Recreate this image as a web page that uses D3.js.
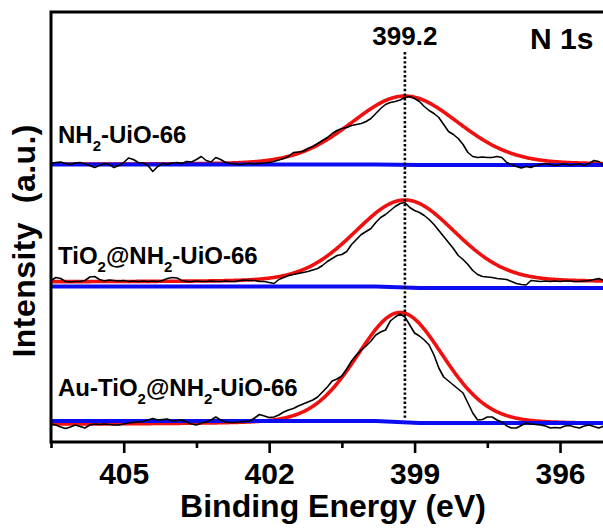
<!DOCTYPE html>
<html>
<head>
<meta charset="utf-8">
<script src="https://cdn.jsdelivr.net/npm/d3@7"></script>
<style>
  html, body { margin: 0; padding: 0; background: #fff; }
  svg { display: block; }
  text { font-family: "Liberation Sans", Arial, Helvetica, sans-serif; font-weight: bold; fill: #000; }
</style>
</head>
<body>
<svg id="chart" width="603" height="529"></svg>
<script>
// ---- N 1s high-resolution XPS data ----
// Binding energy grid: 406.5 eV down to 394.9 eV in 0.1 eV steps (117 points)
const energyStart = 406.5;
const energyStep = 0.1;
const pointCount = 117;

const sampleLabels = [
  ["NH", "2", "-UiO-66"],
  ["TiO", "2", "@NH", "2", "-UiO-66"],
  ["Au-TiO", "2", "@NH", "2", "-UiO-66"]
];

// Raw counts (a.u.), relative to each spectrum's own background level
const rawNH2UiO66 = [
  0.1, 0.2, 0.25, 0.1, 0, 0.15, 0.2, 0.05, -0.1, -0.3,
  -0.1, 0.1, 0, -0.3, -0.1, 0.2, 0.65, 0.5, 0.2, 0.15,
  -0.1, -0.7, -0.2, 0.1, 0, 0.15, 0.2, 0.1, 0.3, 0.25,
  0.5, 0.8, 0.4, 0.25, 0.7, 0.5, 0.2, 0.1, 0.05, 0,
  0.05, 0.1, 0.05, 0.1, 0.15, 0.2, 0.3, 0.45, 0.6, 0.8,
  1.2, 1.25, 1.3, 1.6, 1.8, 2.1, 2.4, 2.7, 3.1, 3.4,
  3.6, 3.7, 3.9, 4.0, 4.1, 4.3, 4.6, 5.1, 5.6, 6.0,
  6.2, 6.3, 6.45, 6.7, 6.8, 6.6, 6.3, 5.8, 5.4, 5.1,
  4.7, 4.0, 3.3, 3.0, 2.6, 2.0, 1.2, 0.8, 0.7, 0.75,
  0.7, 0.7, 0.8, 0.7, 0.2, 0, -0.2, -0.35, -0.2, -0.3,
  -0.1, 0, 0.1, 0, -0.1, 0, 0.05, -0.05, 0, 0.05,
  -0.1, 0.1, 0.4, 0.3, -0.1, 0, 0
];
const rawTiO2NH2UiO66 = [
  0.6, 0.9, 0.8, 0.5, 0.45, 0.5, 0.5, 0.6, 0.95, 1.0,
  0.7, 0.55, 0.65, 0.6, 0.55, 0.6, 0.5, 0.55, 0.5, 0.55,
  0.5, 0.55, 0.5, 0.6, 0.8, 0.9, 0.85, 0.6, 0.5, 0.5,
  0.55, 0.5, 0.5, 0.55, 0.5, 0.5, 0.55, 0.5, 0.5, 0.6,
  0.65, 0.6, 0.6, 0.5, 0.5, 0.4, 0.3, 0.7, 0.9, 1.1,
  1.2, 1.3, 1.4, 1.5, 1.65, 1.8, 2.1, 2.5, 2.8, 3.1,
  3.2, 3.5, 4.2, 4.7, 5.2, 5.5, 5.8, 6.4, 6.9, 7.2,
  7.6, 8.0, 8.3, 8.4, 7.9, 7.6, 7.4, 7.1, 6.7, 6.2,
  5.6, 5.0, 4.4, 3.8, 3.1, 2.7, 2.2, 1.6, 1.2, 1.0,
  0.95, 0.9, 0.8, 0.75, 0.7, 0.5, 0.3, 0.2, 0.15, 0.6,
  0.55, 0.5, 0.55, 0.5, 0.55, 0.5, 0.55, 0.55, 0.5, 0.5,
  0.55, 0.6, 0.7, 0.8, 0.6, 0.5, 0.5
];
const rawAuTiO2NH2UiO66 = [
  -0.3, -0.4, -0.6, -0.75, -0.6, -0.4, -0.55, -0.7, -0.4, -0.3,
  -0.35, -0.3, -0.35, -0.4, -0.4, -0.3, -0.2, -0.15, -0.1, -0.05,
  0.1, 0.25, 0.1, 0.15, 0.2, 0, 0.05, 0.1, -0.1, -0.3,
  -0.4, -0.2, -0.1, 0.1, 0.4, 0.1, -0.1, -0.15, -0.15, -0.1,
  -0.05, 0, 0.3, 0.65, 0.5, 0.35, 0.4, 0.6, 0.9, 1.1,
  1.25, 1.5, 1.7, 1.9, 2.1, 2.4, 2.9, 3.4, 4.0, 4.2,
  4.5, 5.2, 6.0, 6.6, 7.1, 7.5, 8.0, 8.6, 8.9, 9.1,
  10.0, 10.4, 10.7, 10.4, 9.6, 8.8, 8.5, 8.1, 7.6, 6.6,
  5.3, 4.4, 4.0, 3.6, 3.2, 2.8, 1.8, 0.8, 0.1, 0.15,
  0.4, 0.4, 0.1, -0.1, -0.5, -0.7, -0.7, -0.45, -0.2, -0.3,
  -0.35, -0.4, -0.5, -0.7, -0.65, -0.7, -0.5, -0.45, -0.6, -0.7,
  -0.5, -0.4, -0.55, -0.7, -0.5, -0.4, -0.4
];
const rawSpectra = [rawNH2UiO66, rawTiO2NH2UiO66, rawAuTiO2NH2UiO66];

// Vertical stacking offsets (a.u.)
const stackOffsets = [27.75, 15.55, 2.1];

// Peak fit (Gaussian-Lorentzian) parameters for each spectrum
const fitCenter = [399.2, 399.2, 399.3];
const fitFwhm = [2.63, 2.46, 2.13];
const fitHeight = [6.85, 8.2, 11.2];
const fitBase = [0.0, 0.45, -0.35];
const fitLorentz = [0.15, 0.15, 0.2];

// Background lines (a.u.) at the listed energies
const bgEnergy = [406.5, 399.8, 398.9, 394.9];
const bgLevel = [
  [0, 0, -0.05, -0.05],
  [0, 0, -0.15, -0.15],
  [0, 0, -0.2, -0.2]
];

const peakPosition = 399.2;
const peakLabel = "399.2";
const regionLabel = "N 1s";

const majorTicks = [405, 402, 399, 396];
const minorTicks = [406.5, 403.5, 400.5, 397.5];

// ---- Layout ----
const plotLeft = 51, plotTop = 12, plotBottom = 442, plotRight = 608.5;
const labelBaselines = [143, 264, 396];

const svg = d3.select("#chart");

const x = d3.scaleLinear().domain([406.5, 395]).range([plotLeft, plotRight]);
const y = d3.scaleLinear().domain([0, 43]).range([plotBottom, plotTop]);

const energies = d3.range(pointCount).map(i => +(energyStart - energyStep * i).toFixed(1));
const fitEnergies = d3.range(0, 581).map(i => energyStart - 0.02 * i);

function fitValue(k, e) {
  const t = 4 * (e - fitCenter[k]) ** 2 / (fitFwhm[k] ** 2);
  const m = fitLorentz[k];
  const shape = (1 - m) * Math.exp(-Math.LN2 * t) + m / (1 + t);
  return fitBase[k] + fitHeight[k] * shape;
}

const line = d3.line().x(d => x(d[0])).y(d => y(d[1]));

const plot = svg.append("g");

rawSpectra.forEach((raw, k) => {
  const off = stackOffsets[k];

  // fitted envelope
  plot.append("path")
    .attr("d", line(fitEnergies.map(e => [e, off + fitValue(k, e)])))
    .attr("fill", "none")
    .attr("stroke", "#f01010")
    .attr("stroke-width", 3.6)
    .attr("stroke-linejoin", "round");

  // background
  plot.append("path")
    .attr("d", line(bgEnergy.map((e, j) => [e, off + bgLevel[k][j]])))
    .attr("fill", "none")
    .attr("stroke", "#0c0cf0")
    .attr("stroke-width", 3.8);

  // measured spectrum
  plot.append("path")
    .attr("d", line(raw.map((v, j) => [energies[j], off + v])))
    .attr("fill", "none")
    .attr("stroke", "#000")
    .attr("stroke-width", 1.6)
    .attr("stroke-linejoin", "round");
});

// peak position marker
svg.append("line")
  .attr("x1", x(peakPosition)).attr("x2", x(peakPosition))
  .attr("y1", 52).attr("y2", 418)
  .attr("stroke", "#000")
  .attr("stroke-width", 2.6)
  .attr("stroke-dasharray", "2.4,2.2");

svg.append("text")
  .attr("x", x(peakPosition))
  .attr("y", 45)
  .attr("text-anchor", "middle")
  .style("font-size", "26px")
  .text(peakLabel);

svg.append("text")
  .attr("x", 530)
  .attr("y", 49)
  .style("font-size", "30px")
  .text(regionLabel);

// sample labels with subscripts
sampleLabels.forEach((parts, k) => {
  const t = svg.append("text")
    .attr("x", 58)
    .attr("y", labelBaselines[k])
    .style("font-size", "24px");
  parts.forEach((p, j) => {
    const sub = j % 2 === 1;
    const ts = t.append("tspan").text(p);
    if (sub) ts.attr("dy", 8).style("font-size", "15px");
    else if (j > 0) ts.attr("dy", -8);
  });
});

// frame
svg.append("rect")
  .attr("x", plotLeft).attr("y", plotTop)
  .attr("width", plotRight - plotLeft).attr("height", plotBottom - plotTop)
  .attr("fill", "none")
  .attr("stroke", "#000")
  .attr("stroke-width", 3);

// bottom axis
const gMajor = svg.append("g").attr("transform", `translate(0,${plotBottom})`)
  .call(d3.axisBottom(x).tickValues(majorTicks).tickSize(11).tickFormat(d3.format("d")));
gMajor.select(".domain").remove();
gMajor.selectAll(".tick line").attr("stroke-width", 2.6);
gMajor.selectAll(".tick text")
  .attr("y", 42).attr("dy", null)
  .style("font-size", "30px");

const gMinor = svg.append("g").attr("transform", `translate(0,${plotBottom})`)
  .call(d3.axisBottom(x).tickValues(minorTicks).tickSize(6).tickFormat(""));
gMinor.select(".domain").remove();
gMinor.selectAll(".tick line").attr("stroke-width", 2.6);

// axis titles
svg.append("text")
  .attr("x", 333)
  .attr("y", 517)
  .attr("text-anchor", "middle")
  .style("font-size", "32px")
  .text("Binding Energy (eV)");

svg.append("text")
  .attr("transform", "translate(35,241) rotate(-90)")
  .attr("text-anchor", "middle")
  .attr("textLength", 233)
  .attr("lengthAdjust", "spacing")
  .style("font-size", "32px")
  .style("white-space", "pre")
  .text("Intensity  (a.u.)");
</script>
</body>
</html>
